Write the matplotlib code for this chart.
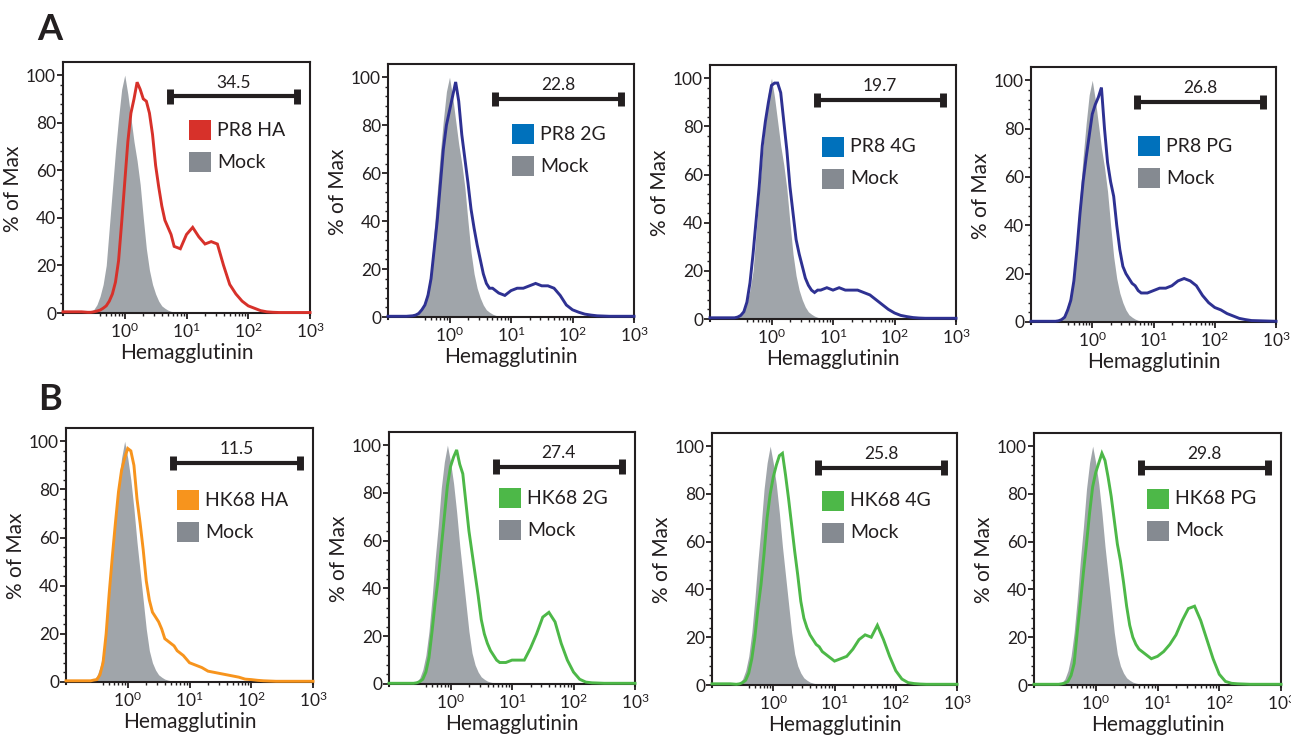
import matplotlib
matplotlib.use("Agg")
import matplotlib.pyplot as plt
import matplotlib.transforms as mtransforms
import numpy as np
from matplotlib.patches import Rectangle
from matplotlib.ticker import FixedLocator, NullFormatter

plt.rcParams['font.family'] = ['Lato', 'DejaVu Sans']
plt.rcParams['mathtext.fontset'] = 'custom'
plt.rcParams['mathtext.rm'] = 'Lato'
plt.rcParams['mathtext.it'] = 'Lato:italic'
plt.rcParams['mathtext.bf'] = 'Lato:bold'

# log10 of the Hemagglutinin channel at each histogram point
log_x = [-1.0, -0.7,
         -0.6, -0.55, -0.5, -0.45, -0.4, -0.35, -0.3, -0.25, -0.2, -0.15, -0.1, -0.05,
         0.0, 0.05, 0.1, 0.15, 0.2, 0.25, 0.3, 0.35, 0.4, 0.45, 0.5, 0.55,
         0.6, 0.65, 0.7, 0.75, 0.8,
         0.9, 1.0, 1.1, 1.2, 1.3, 1.4, 1.5, 1.6, 1.7, 1.8, 1.9, 2.0, 2.1, 2.2, 2.3, 2.4, 2.5, 2.6,
         3.0]

# % of Max for the mock-transfected controls (row A, row B)
mock_a = [0, 0,
          0.3, 0.7, 1.5, 3.5, 7, 12, 20, 36, 52, 68, 82, 94,
          100, 92, 82, 72, 64, 54, 40, 27, 18, 12, 8, 5,
          3, 2, 1.2, 0.7, 0.4,
          0.1, 0, 0, 0, 0, 0, 0, 0, 0, 0, 0, 0, 0, 0, 0, 0, 0, 0,
          0]
mock_b = [0, 0,
          0.5, 1, 2.5, 6, 12, 22, 36, 52, 66, 82, 93, 100,
          93, 84, 72, 58, 46, 34, 22, 13, 8, 5, 3, 2,
          1.2, 0.8, 0.5, 0.3, 0.2,
          0, 0, 0, 0, 0, 0, 0, 0, 0, 0, 0, 0, 0, 0, 0, 0, 0, 0,
          0]

# % of Max for each HA construct
pr8_ha = [0.5, 0.5,
          0.3, 0.3, 0.5, 0.8, 1.2, 2, 3, 5, 8, 13, 22, 38,
          55, 72, 84, 90, 97, 94, 90, 89, 84, 75, 62, 53,
          45, 39, 36, 33, 28,
          27, 33, 36, 32, 29, 30, 29, 20, 12, 8, 5, 3, 2, 1, 0.5, 0.3, 0.2, 0.2,
          0.2]
pr8_2g = [0.3, 0.3,
          0.5, 0.8, 1.5, 3, 5, 9, 16, 28, 40, 55, 70, 80,
          86, 92, 98, 90, 76, 66, 56, 45, 37, 30, 24, 18,
          14, 12, 12, 11, 10,
          9, 11, 12, 12, 13, 14, 13, 13, 12, 9, 5, 3, 2, 1.2, 0.8, 0.5, 0.4, 0.3,
          0.3]
pr8_4g = [0.5, 0.5,
          0.5, 0.8, 1.5, 3, 7, 15, 27, 41, 55, 72, 82, 90,
          97, 98, 98, 94, 82, 70, 55, 44, 33, 27, 22, 17,
          14, 12, 11, 12, 12,
          13, 12, 13, 12, 12, 12, 11, 10, 8, 6, 4, 2.5, 1.5, 1, 0.6, 0.4, 0.3, 0.3,
          0.3]
pr8_pg = [0.3, 0.3,
          0.3, 0.5, 1, 2, 5, 9, 17, 30, 45, 58, 68, 77,
          86, 90, 93, 97, 80, 66, 58, 52, 40, 30, 23, 20,
          18, 16, 15, 13, 12,
          12, 13, 14, 14, 15, 17, 18, 17, 15, 11, 8, 6, 5, 3.5, 2.5, 1.5, 1, 0.6,
          0.3]
hk68_ha = [0.5, 0.5,
           0.5, 0.8, 1, 3, 8, 20, 37, 52, 66, 79, 88, 93,
           97, 96, 90, 76, 66, 55, 42, 34, 29, 27, 25, 22,
           18, 17, 16, 15, 13,
           11, 8, 7, 6, 4.5, 4, 3.5, 3, 2.5, 2, 1.2, 1, 0.7, 0.5, 0.4, 0.3, 0.3, 0.3,
           0.3]
hk68_2g = [0.3, 0.3,
           0.3, 0.5, 1, 2, 5, 11, 22, 34, 44, 57, 70, 83,
           91, 95, 98, 92, 88, 76, 64, 55, 46, 37, 27, 21,
           17, 14, 12, 10, 9,
           9, 10, 10, 10, 15, 21, 28, 30, 26, 17, 10, 5, 2, 0.8, 0.5, 0.4, 0.3, 0.3,
           0.3]
hk68_4g = [0.5, 0.5,
           0.3, 0.5, 1, 2, 5, 11, 20, 32, 42, 55, 70, 80,
           87, 92, 96, 97, 88, 78, 67, 56, 46, 35, 28, 24,
           21, 19, 17, 16, 14,
           12, 10, 11, 12, 15, 19, 21, 20, 25, 19, 12, 6, 2.5, 1, 0.6, 0.4, 0.3, 0.3,
           0.3]
hk68_pg = [0.3, 0.3,
           0.3, 0.5, 0.8, 1.5, 4, 9, 22, 34, 47, 59, 72, 83,
           89, 93, 97, 94, 87, 79, 69, 59, 52, 43, 33, 25,
           20, 17, 15, 14, 13,
           11, 12, 14, 17, 21, 27, 32, 33, 27, 19, 11, 4.5, 1.5, 0.7, 0.5, 0.4, 0.3, 0.3,
           0.3]

samples = [pr8_ha, pr8_2g, pr8_4g, pr8_pg, hk68_ha, hk68_2g, hk68_4g, hk68_pg]
mocks = [mock_a] * 4 + [mock_b] * 4
names = ['PR8 HA', 'PR8 2G', 'PR8 4G', 'PR8 PG',
         'HK68 HA', 'HK68 2G', 'HK68 4G', 'HK68 PG']
gate_pct = [34.5, 22.8, 19.7, 26.8, 11.5, 27.4, 25.8, 29.8]
gate_lo, gate_hi, gate_y = 5.4, 620, 91

line_colors = ['#d7312a', '#2e3192', '#2e3192', '#2e3192',
               '#f7941d', '#4db848', '#4db848', '#4db848']
key_colors = ['#d7312a', '#0071bc', '#0071bc', '#0071bc',
              '#f7941d', '#4db848', '#4db848', '#4db848']
fill_gray = '#a0a5aa'
key_gray = '#858a91'
ink = '#231f20'

W, H = 1291, 738
# panel boxes in pixels: left, right, top, y=0 line
boxes = [(63, 310, 62, 313), (388, 634, 64, 317), (710, 956, 65, 319), (1031, 1276, 67, 322),
         (66, 313, 428, 682), (389, 635, 432, 684), (712, 957, 433, 685), (1034, 1281, 433, 685)]
key_x = [0.51, 0.504, 0.455, 0.437, 0.449, 0.447, 0.449, 0.457]
key_top = [58, 60, 72, 69, 62, 56, 58, 56]

YTOP, YBOT = 105.5, -1.0

fig = plt.figure(figsize=(W / 100, H / 100), dpi=100)
xs = 10 ** np.array(log_x)
# decade labels sit a touch left of their ticks
label_shift = mtransforms.ScaledTranslation(-3 / 100, 0, fig.dpi_scale_trans)

for i in range(8):
    L, R, T, Z = boxes[i]
    unit = (Z - T) / YTOP
    B = Z - YBOT * unit
    ax = fig.add_axes([L / W, 1 - B / H, (R - L) / W, (B - T) / H])
    ax.set_xscale('log')
    ax.set_xlim(0.1, 1000)
    ax.set_ylim(YBOT, YTOP)

    ax.fill_between(xs, 0, mocks[i], color=fill_gray, lw=0, zorder=1)
    ax.plot(xs, samples[i], color=line_colors[i], lw=2.1, zorder=3,
            solid_joinstyle='miter', clip_on=False)

    # gate bar with end caps
    ax.plot([gate_lo, gate_hi], [gate_y, gate_y], color=ink, lw=3, zorder=4,
            solid_capstyle='butt')
    for gx in (gate_lo, gate_hi):
        ax.plot([gx, gx], [gate_y - 3, gate_y + 3], color=ink, lw=5,
                solid_capstyle='butt', zorder=4)
    ax.text(np.sqrt(gate_lo * gate_hi), gate_y + 2.5, f'{gate_pct[i]}',
            ha='center', va='bottom', fontsize=12.5, color=ink)

    # key squares
    pw = 22 / (R - L)
    ph = 20 / (B - T)
    y1 = 1 - (key_top[i] + 20) / (B - T)
    y2 = 1 - (key_top[i] + 52) / (B - T)
    tx = key_x[i] + pw + 6 / (R - L)
    ax.add_patch(Rectangle((key_x[i], y1), pw, ph, transform=ax.transAxes,
                           color=key_colors[i], lw=0, zorder=5))
    ax.add_patch(Rectangle((key_x[i], y2), pw, ph, transform=ax.transAxes,
                           color=key_gray, lw=0, zorder=5))
    ax.text(tx, y1 + ph / 2, names[i], transform=ax.transAxes, ha='left',
            va='center', fontsize=14, color=ink)
    ax.text(tx, y2 + ph / 2, 'Mock', transform=ax.transAxes, ha='left',
            va='center', fontsize=14, color=ink)

    for s in ax.spines.values():
        s.set_linewidth(1.5)
        s.set_color(ink)
    ax.spines['bottom'].set_position(('data', 0))

    ax.set_xticks([1, 10, 100, 1000])
    ax.set_xticklabels([r'$10^{0}$', r'$10^{1}$', r'$10^{2}$', r'$10^{3}$'])
    for lab in ax.get_xticklabels():
        lab.set_transform(lab.get_transform() + label_shift)
    ax.xaxis.set_minor_locator(FixedLocator(
        [0.4, 0.5, 0.6, 0.7, 0.8, 0.9] + [k for k in range(2, 10)] +
        [10 * k for k in range(2, 10)]))
    ax.xaxis.set_minor_formatter(NullFormatter())
    ax.set_yticks([0, 20, 40, 60, 80, 100])
    ax.yaxis.set_minor_locator(FixedLocator([v for v in range(4, 100, 4) if v % 20]))
    ax.tick_params(which='major', direction='out', length=4, width=1.3,
                   color=ink, labelsize=12.5, labelcolor=ink, pad=1)
    ax.tick_params(which='minor', direction='out', length=2.5, width=1,
                   color=ink)
    ax.tick_params(axis='x', which='major', pad=2)
    ax.set_xlabel('Hemagglutinin', fontsize=15, color=ink, labelpad=1.5)
    ax.set_ylabel('% of Max', fontsize=15, color=ink, labelpad=2)

fig.text(50 / W, 1 - 30 / H, 'A', fontsize=26, fontweight='bold', ha='center',
         va='center', color=ink)
fig.text(50 / W, 1 - 400 / H, 'B', fontsize=26, fontweight='bold', ha='center',
         va='center', color=ink)

fig.savefig('out.png', dpi=100, facecolor='white')
